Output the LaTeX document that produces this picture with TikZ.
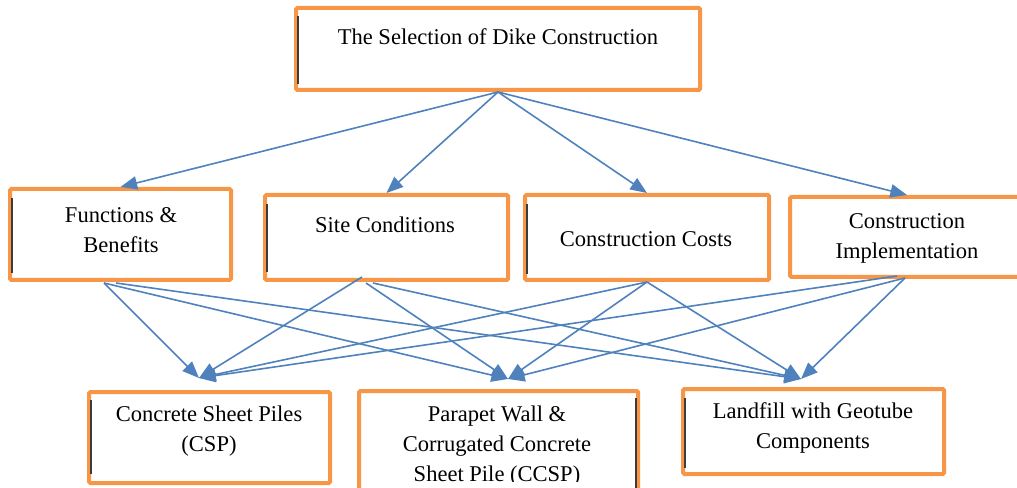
\documentclass[tikz,border=0pt]{standalone}
\usepackage{fontspec}
\setmainfont{Liberation Serif}
\usetikzlibrary{arrows.meta}

\definecolor{boxorange}{HTML}{F79646}
\definecolor{arrowblue}{HTML}{4F81BD}
\definecolor{edgegray}{HTML}{3C3C3C}

\tikzset{
	box/.style={draw=boxorange, line width=3pt, rounded corners=1pt, fill=white},
	boxsize/.style 2 args={minimum width=#1*0.75pt, minimum height=#2*0.75pt},
	lbl/.style={align=center, inner sep=0pt, font=\fontsize{16.9}{22.5}\selectfont},
	arr/.style={draw=arrowblue, line width=1.2pt, -{Triangle[length=12.5pt,width=10pt]}},
	tick/.style={draw=edgegray, line width=1pt}
}

\begin{document}
\begin{tikzpicture}[x=0.75pt,y=-0.75pt]
	\useasboundingbox (0,0) rectangle (1017,488);

	% boxes
	\node[box,boxsize={404}{82}] (top) at (498,49) {};
	\node[box,boxsize={221}{91}] (fb) at (120.5,234.5) {};
	\node[box,boxsize={243}{85}] (sc) at (386.5,237.5) {};
	\node[box,boxsize={244}{85}] (cc) at (647,237.5) {};
	\node[box,boxsize={234}{80}] (ci) at (907,237) {};
	\node[box,boxsize={241}{91}] (csp) at (209.5,437.5) {};
	\node[box,boxsize={279}{117}] (pw) at (498.5,449.5) {};
	\node[box,boxsize={261}{85}] (lg) at (813.5,431.5) {};

	% dark edges inside the boxes
	\draw[tick] ([shift={(4,10)}]top.north west) -- ([shift={(4,-8)}]top.south west);
	\draw[tick] ([shift={(4,11)}]fb.north west) -- ([shift={(4,-9)}]fb.south west);
	\draw[tick] ([shift={(4,11)}]sc.north west) -- ([shift={(4,-10)}]sc.south west);
	\draw[tick] ([shift={(4,11)}]cc.north west) -- ([shift={(4,-8)}]cc.south west);
	\draw[tick] ([shift={(4,10)}]csp.north west) -- ([shift={(4,-11)}]csp.south west);
	\draw[tick] ([shift={(4,11)}]lg.north west) -- ([shift={(4,-8)}]lg.south west);
	\draw[tick] ([shift={(-4,9)}]pw.north east) -- ([shift={(-4,-8)}]pw.south east);

	% texts
	\node[lbl] (top-t) at (498,37) {The Selection of Dike Construction};
	\node[lbl] (fb-t) at (121,230) {Functions \&\\Benefits};
	\node[lbl] (sc-t) at (385,225) {Site Conditions};
	\node[lbl] (cc-t) at (646,239) {Construction Costs};
	\node[lbl] (ci-t) at (907,238) {Construction\\Implementation};
	\node[lbl] (csp-t) at (209,431) {Concrete Sheet Piles\\(CSP)};
	\begin{scope}
		\clip (357,389) rectangle (640,481);
		\node[lbl] (pw-t) at (497,446) {Parapet Wall \&\\Corrugated Concrete\\Sheet Pile (CCSP)};
	\end{scope}
	\node[lbl] (lg-t) at (813,428) {Landfill with Geotube\\Components};

	% ends of the lower arrows
	\coordinate (fb-a) at (104,283);
	\coordinate (fb-b) at (116,283);
	\coordinate (sc-a) at (362,277);
	\coordinate (sc-b) at (366,283);
	\coordinate (sc-c) at (373,283);
	\coordinate (cc-a) at (647,282);
	\coordinate (ci-a) at (897,276);
	\coordinate (ci-b) at (905,278);
	\coordinate (csp-in) at (199,378);
	\coordinate (pw-in) at (508,379);
	\coordinate (lg-in) at (801,379);

	% top to criteria
	\draw[arr] (top.south) -- (fb.north);
	\draw[arr] (top.south) -- (sc.north);
	\draw[arr] (top.south) -- (cc.north);
	\draw[arr] (top.south) -- (ci.north);

	% criteria to alternatives
	\draw[arr] (fb-a) -- (csp-in);
	\draw[arr] (fb-a) -- (pw-in);
	\draw[arr] (fb-b) -- (lg-in);
	\draw[arr] (sc-a) -- (csp-in);
	\draw[arr] (sc-b) -- (pw-in);
	\draw[arr] (sc-c) -- (lg-in);
	\draw[arr] (cc-a) -- (csp-in);
	\draw[arr] (cc-a) -- (pw-in);
	\draw[arr] (cc-a) -- (lg-in);
	\draw[arr] (ci-a) -- (csp-in);
	\draw[arr] (ci-b) -- (pw-in);
	\draw[arr] (ci-b) -- (lg-in);

\end{tikzpicture}
\end{document}
